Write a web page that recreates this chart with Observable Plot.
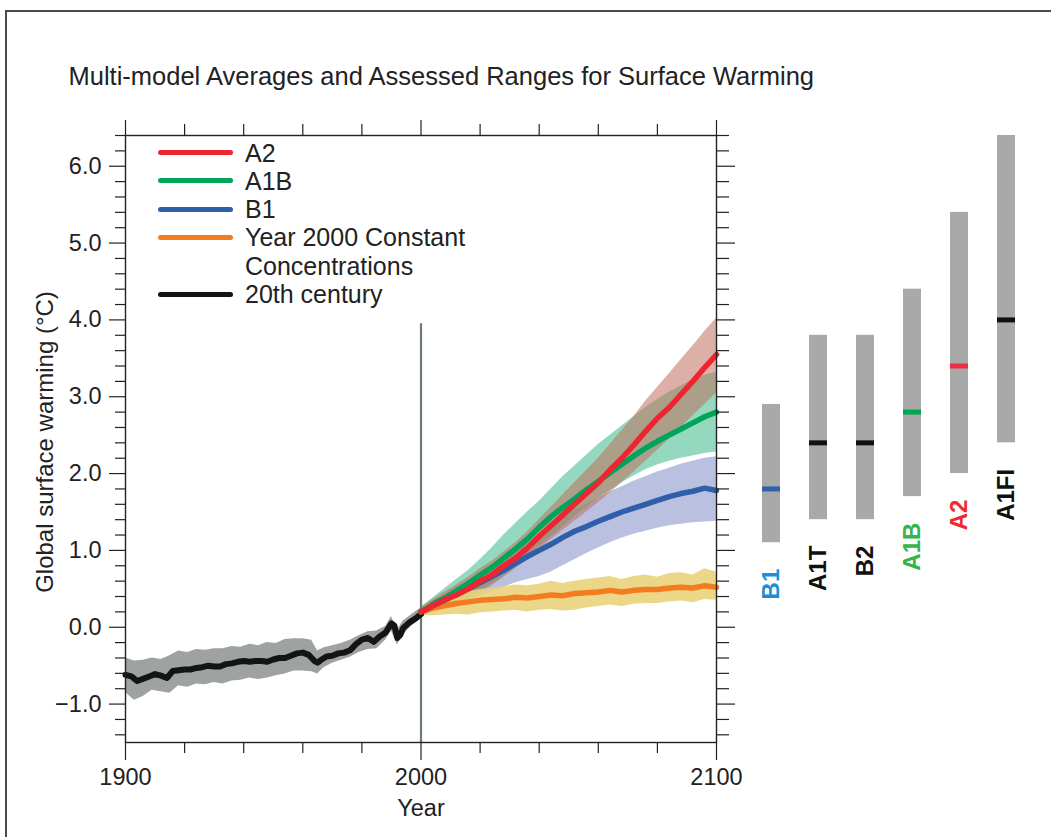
<!DOCTYPE html>
<html>
<head>
<meta charset="utf-8">
<script src="https://cdn.jsdelivr.net/npm/d3@7"></script>
<script src="https://cdn.jsdelivr.net/npm/@observablehq/plot@0.6"></script>
<style>
  html, body { margin: 0; padding: 0; background: #fff; overflow: hidden; }
  #wrap { position: relative; width: 1051px; height: 837px; font-family: "Liberation Sans", Arial, Helvetica, sans-serif; color: #222; }
  #wrap > svg { position: absolute; left: 0; top: 0; }
  #outer { position: absolute; left: 5px; top: 10px; width: 1100px; height: 900px; border: 2px solid #4a4a4a; box-sizing: border-box; }
  #legend { position: absolute; left: 158px; top: 138.5px; font-size: 25px; line-height: 28.3px; color: #222; }
  #legend .row { display: flex; align-items: flex-start; }
  #legend .sw { display: inline-block; width: 75px; height: 5px; border-radius: 3px; margin-top: 11.6px; margin-right: 12px; flex: none; }
</style>
</head>
<body>
<div id="wrap"><div id="outer"></div></div>
<script>
// ---------- Data ----------
const titleText = "Multi-model Averages and Assessed Ranges for Surface Warming";
const yLabel = "Global surface warming (°C)";
const xLabel = "Year";

const xDomain = [1900, 2100];
const yDomain = [-1.5, 6.4];
const xMajorTicks = [1900, 2000, 2100];
const xMinorTicks = [1920, 1940, 1960, 1980, 2020, 2040, 2060, 2080];
const yMajorTicks = [-1, 0, 1, 2, 3, 4, 5, 6];
const yMinorTicks = [-1.4, -1.2, -0.8, -0.6, -0.4, -0.2, 0.2, 0.4, 0.6, 0.8, 1.2, 1.4, 1.6, 1.8, 2.2, 2.4, 2.6, 2.8, 3.2, 3.4, 3.6, 3.8, 4.2, 4.4, 4.6, 4.8, 5.2, 5.4, 5.6, 5.8, 6.2, 6.4];

const dividerYear = 2000;
const dividerTop = 3.95;

// 20th century multi-model mean
const years20 = [1900,1902,1904,1906,1908,1910,1912,1914,1916,1918,1920,1922,1924,1926,1928,1930,1932,1934,1936,1938,1940,1942,1944,1946,1948,1950,1952,1954,1956,1958,1960,1962,1963,1964,1965,1966,1968,1970,1972,1974,1976,1978,1980,1982,1984,1986,1988,1990,1991,1992,1993,1994,1996,1998,2000];
const mean20 = [-0.62,-0.64,-0.70,-0.67,-0.64,-0.61,-0.63,-0.66,-0.57,-0.56,-0.55,-0.55,-0.53,-0.52,-0.50,-0.51,-0.51,-0.48,-0.47,-0.45,-0.44,-0.45,-0.44,-0.44,-0.45,-0.42,-0.40,-0.40,-0.37,-0.34,-0.33,-0.36,-0.40,-0.44,-0.46,-0.43,-0.38,-0.37,-0.34,-0.33,-0.30,-0.22,-0.16,-0.14,-0.19,-0.12,-0.07,0.05,0.02,-0.14,-0.10,-0.01,0.06,0.11,0.17];
// 20th century range
const bandYears20 = [1900,1903,1906,1909,1912,1915,1918,1921,1924,1927,1930,1933,1936,1939,1942,1945,1948,1951,1954,1957,1960,1963,1965,1967,1970,1973,1976,1979,1982,1985,1988,1990,1992,1994,1997,2000];
const upper20 = [-0.40,-0.44,-0.43,-0.40,-0.42,-0.37,-0.31,-0.33,-0.29,-0.30,-0.28,-0.28,-0.25,-0.26,-0.22,-0.24,-0.20,-0.21,-0.16,-0.15,-0.15,-0.17,-0.31,-0.27,-0.24,-0.21,-0.17,-0.11,-0.06,-0.05,0.01,0.14,-0.04,0.08,0.17,0.25];
const lower20 = [-0.85,-0.95,-0.90,-0.82,-0.84,-0.86,-0.76,-0.78,-0.74,-0.75,-0.72,-0.74,-0.70,-0.69,-0.66,-0.68,-0.66,-0.63,-0.61,-0.57,-0.57,-0.58,-0.61,-0.53,-0.47,-0.43,-0.39,-0.33,-0.29,-0.28,-0.17,-0.05,-0.23,-0.09,0.02,0.11];

// 21st century projections
const futureYears = [2000,2004,2008,2012,2016,2020,2024,2028,2032,2036,2040,2044,2048,2052,2056,2060,2064,2068,2072,2076,2080,2084,2088,2092,2096,2100];
const a2Mean  = [0.20,0.28,0.36,0.42,0.50,0.60,0.68,0.80,0.90,1.03,1.18,1.32,1.46,1.60,1.74,1.88,2.05,2.20,2.37,2.55,2.72,2.86,3.03,3.20,3.38,3.55];
const a2Upper = [0.26,0.36,0.46,0.55,0.65,0.76,0.86,0.98,1.10,1.24,1.40,1.56,1.72,1.88,2.04,2.20,2.38,2.56,2.74,2.94,3.12,3.30,3.48,3.66,3.85,4.02];
const a2Lower = [0.16,0.20,0.26,0.32,0.38,0.45,0.54,0.65,0.76,0.88,1.02,1.14,1.26,1.38,1.50,1.62,1.75,1.88,2.02,2.16,2.30,2.45,2.60,2.75,2.90,3.05];
const a1bMean  = [0.20,0.30,0.38,0.47,0.57,0.68,0.78,0.90,1.02,1.15,1.30,1.44,1.56,1.67,1.79,1.90,2.01,2.12,2.23,2.33,2.42,2.50,2.58,2.66,2.74,2.80];
const a1bUpper = [0.26,0.38,0.50,0.62,0.74,0.88,1.03,1.20,1.35,1.50,1.64,1.80,1.96,2.10,2.24,2.38,2.50,2.62,2.74,2.86,2.96,3.06,3.14,3.22,3.28,3.32];
const a1bLower = [0.16,0.22,0.28,0.34,0.40,0.48,0.56,0.66,0.78,0.92,1.05,1.18,1.30,1.44,1.56,1.68,1.78,1.88,1.97,2.05,2.11,2.16,2.20,2.23,2.26,2.28];
const b1Mean  = [0.20,0.28,0.35,0.43,0.50,0.58,0.66,0.74,0.83,0.92,1.00,1.08,1.17,1.25,1.31,1.38,1.44,1.50,1.55,1.60,1.65,1.70,1.74,1.77,1.81,1.78];
const b1Upper = [0.24,0.34,0.42,0.52,0.61,0.70,0.80,0.90,1.01,1.12,1.22,1.32,1.42,1.52,1.60,1.68,1.76,1.83,1.90,1.96,2.02,2.07,2.12,2.16,2.20,2.22];
const b1Lower = [0.16,0.20,0.25,0.30,0.35,0.40,0.46,0.52,0.58,0.62,0.66,0.72,0.80,0.88,0.96,1.03,1.10,1.16,1.21,1.25,1.29,1.32,1.34,1.36,1.37,1.38];
const constMean  = [0.20,0.25,0.28,0.31,0.33,0.35,0.36,0.37,0.39,0.38,0.40,0.42,0.41,0.44,0.45,0.46,0.48,0.46,0.48,0.49,0.49,0.51,0.52,0.51,0.54,0.52];
const constUpper = [0.24,0.33,0.38,0.44,0.46,0.49,0.50,0.53,0.55,0.54,0.56,0.60,0.57,0.60,0.62,0.64,0.66,0.62,0.66,0.68,0.65,0.70,0.71,0.68,0.76,0.72];
const constLower = [0.15,0.15,0.16,0.17,0.16,0.19,0.20,0.21,0.22,0.20,0.22,0.23,0.21,0.22,0.25,0.27,0.29,0.27,0.30,0.31,0.31,0.33,0.34,0.32,0.36,0.35];

// Legend
const legendLabels = ["A2", "A1B", "B1", "Year 2000 Constant<br>Concentrations", "20th century"];
const legendColors = ["#ec2530", "#00a45a", "#2e5fa8", "#f47c20", "#141414"];

// Assessed ranges (right-hand bars)
const scenarioNames = ["B1", "A1T", "B2", "A1B", "A2", "A1FI"];
const scenarioLow   = [1.1, 1.4, 1.4, 1.7, 2.0, 2.4];
const scenarioHigh  = [2.9, 3.8, 3.8, 4.4, 5.4, 6.4];
const scenarioBest  = [1.8, 2.4, 2.4, 2.8, 3.4, 4.0];
const scenarioMarkColors  = ["#2e62ad", "#111111", "#111111", "#00a651", "#ef2c40", "#111111"];
const scenarioLabelColors = ["#1a90d4", "#111111", "#111111", "#33b54b", "#ee2a30", "#111111"];

// ---------- Build tables ----------
const zip = (xs, ...cols) => xs.map((x, i) => ({year: x, ...Object.fromEntries(cols.map(([k, a]) => [k, a[i]]))}));
const t20 = zip(years20, ["y", mean20]);
const b20 = zip(bandYears20, ["hi", upper20], ["lo", lower20]);
const fut = (m, u, l) => zip(futureYears, ["y", m], ["hi", u], ["lo", l]);
const A2 = fut(a2Mean, a2Upper, a2Lower);
const A1B = fut(a1bMean, a1bUpper, a1bLower);
const B1 = fut(b1Mean, b1Upper, b1Lower);
const CONST = fut(constMean, constUpper, constLower);
const scen = scenarioNames.map((n, i) => ({name: n, lo: scenarioLow[i], hi: scenarioHigh[i], best: scenarioBest[i], mark: scenarioMarkColors[i], label: scenarioLabelColors[i]}));

const W = 1051, H = 837;
const font = "'Liberation Sans', Arial, Helvetica, sans-serif";
const common = {width: W, height: H, marginTop: 135, marginBottom: H - 742,
  style: {fontFamily: font, fontSize: "23px", color: "#222", background: "transparent", overflow: "visible"}};
const blank = () => "";
const axStyle = {stroke: "#222", strokeWidth: 1.2, fontSize: 23.5, fill: "#222"};

const main = Plot.plot({
  ...common,
  marginLeft: 125, marginRight: W - 716,
  x: {domain: xDomain},
  y: {domain: yDomain},
  marks: [
    // ranges
    Plot.areaY(b20, {x: "year", y1: "lo", y2: "hi", fill: "#9fa2a2"}),
    Plot.areaY(B1, {x: "year", y1: "lo", y2: "hi", fill: "#8c96c9", fillOpacity: 0.6}),
    Plot.areaY(A1B, {x: "year", y1: "lo", y2: "hi", fill: "#3db98a", fillOpacity: 0.55}),
    Plot.areaY(A2, {x: "year", y1: "lo", y2: "hi", fill: "#c0705c", fillOpacity: 0.55}),
    Plot.areaY(CONST, {x: "year", y1: "lo", y2: "hi", fill: "#e9d37a", fillOpacity: 0.9}),
    // divider
    Plot.ruleX([dividerYear], {y1: dividerTop, y2: yDomain[0], stroke: "#6b7b7a", strokeWidth: 2.2}),
    // means
    Plot.lineY(t20, {x: "year", y: "y", stroke: "#141414", strokeWidth: 6, strokeLinejoin: "round"}),
    Plot.lineY(CONST, {x: "year", y: "y", stroke: "#f47c20", strokeWidth: 5.5, strokeLinejoin: "round"}),
    Plot.lineY(B1, {x: "year", y: "y", stroke: "#2e5fa8", strokeWidth: 5.5, strokeLinejoin: "round"}),
    Plot.lineY(A1B, {x: "year", y: "y", stroke: "#00a45a", strokeWidth: 5.5, strokeLinejoin: "round"}),
    Plot.lineY(A2, {x: "year", y: "y", stroke: "#ec2530", strokeWidth: 5.5, strokeLinejoin: "round"}),
    // frame & axes
    Plot.frame({stroke: "#222", strokeWidth: 1.4}),
    Plot.axisY({anchor: "left", ticks: yMajorTicks, tickSize: 16, tickPadding: 8, tickFormat: d3.format(".1f"), label: null, ...axStyle}),
    Plot.axisY({anchor: "left", ticks: yMinorTicks, tickSize: 10, tickFormat: blank, label: null, ...axStyle}),
    Plot.axisY({anchor: "right", ticks: yMajorTicks, tickSize: 18, tickFormat: blank, label: null, ...axStyle}),
    Plot.axisY({anchor: "right", ticks: yMinorTicks, tickSize: 12, tickFormat: blank, label: null, ...axStyle}),
    Plot.axisX({anchor: "bottom", ticks: xMajorTicks, tickSize: 18, tickPadding: 8, tickFormat: d3.format("d"), label: null, ...axStyle}),
    Plot.axisX({anchor: "bottom", ticks: xMinorTicks, tickSize: 11, tickFormat: blank, label: null, ...axStyle}),
    Plot.axisX({anchor: "top", ticks: xMajorTicks, tickSize: 16, tickFormat: blank, label: null, ...axStyle}),
    Plot.axisX({anchor: "top", ticks: xMinorTicks, tickSize: 12, tickFormat: blank, label: null, ...axStyle}),
    // titles
    Plot.text([titleText], {frameAnchor: "top-left", textAnchor: "start", lineAnchor: "bottom", dx: -57, dy: -51, fontSize: 25.5, fill: "#222"}),
    Plot.text([yLabel], {frameAnchor: "left", textAnchor: "middle", rotate: -90, dx: -80, dy: 3, fontSize: 24, fill: "#222"}),
    Plot.text([xLabel], {frameAnchor: "bottom", dy: 73, fontSize: 23.5, fill: "#222"})
  ]
});

const bars = Plot.plot({
  ...common,
  marginLeft: 745, marginRight: W - 1031,
  x: {type: "band", domain: scenarioNames, paddingInner: 0.62, paddingOuter: 0.31, axis: null},
  y: {domain: yDomain, axis: null},
  marks: [
    Plot.barY(scen, {x: "name", y1: "lo", y2: "hi", fill: "#a8aaaa"}),
    Plot.tickY(scen, {x: "name", y: "best", stroke: "mark", strokeWidth: 5}),
    Plot.text(scen, {x: "name", y: "lo", text: "name", rotate: -90, textAnchor: "end", dy: 26, fill: "label", fontWeight: "bold", fontSize: 24})
  ]
});

const wrap = document.getElementById("wrap");
wrap.appendChild(main);
wrap.appendChild(bars);

// legend
const legend = document.createElement("div");
legend.id = "legend";
legend.innerHTML = legendLabels.map((l, i) =>
  `<div class="row"><span class="sw" style="background:${legendColors[i]}"></span><span>${l}</span></div>`).join("");
wrap.appendChild(legend);
</script>
</body>
</html>
